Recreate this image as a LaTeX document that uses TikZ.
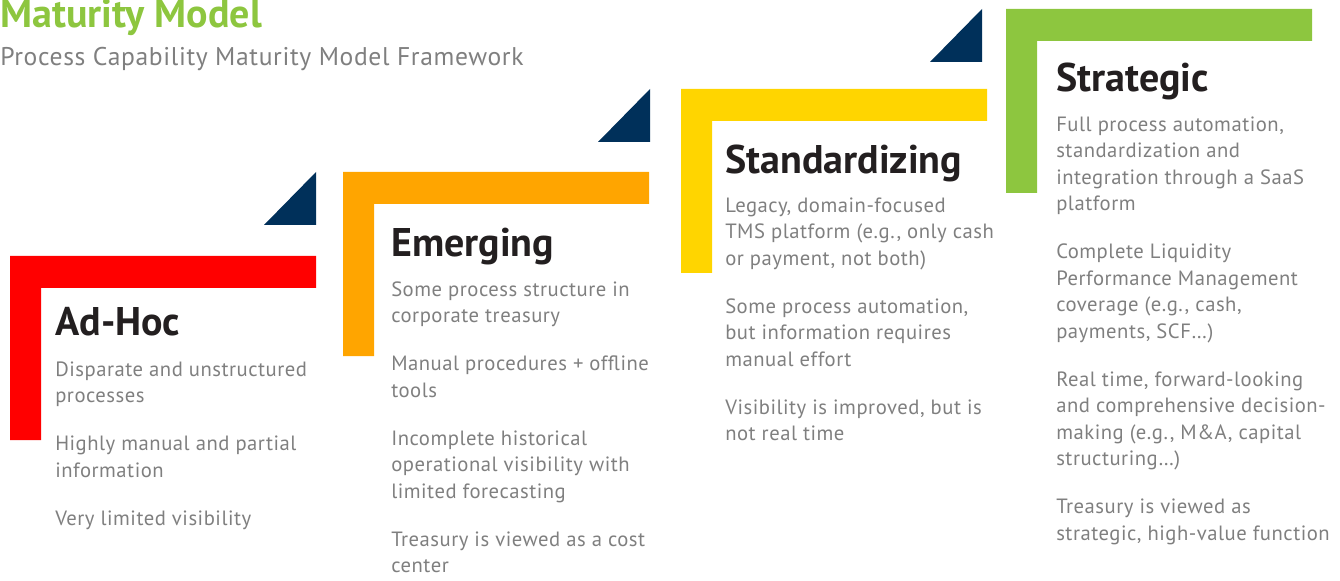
\documentclass[tikz,border=0pt]{standalone}
\usepackage{fontspec}
\setmainfont{PT Sans}
\newfontfamily\descfont[LetterSpace=2.5]{PT Sans}
\usepackage{tikz}
\usetikzlibrary{positioning}
\definecolor{adhocred}{HTML}{FF0000}
\definecolor{emergorange}{HTML}{FFA500}
\definecolor{stdyellow}{HTML}{FFD500}
\definecolor{stratgreen}{HTML}{8DC63F}
\definecolor{cornernavy}{HTML}{00305A}
\definecolor{bodygray}{HTML}{7F7F7F}
\definecolor{titleblack}{HTML}{231F20}

\begin{document}
\begin{tikzpicture}[
        x=0.75pt, y={(0,-0.75pt)},
        stage/.style={anchor=base west, inner sep=0, text=titleblack,
            font=\fontsize{30}{36}\selectfont\bfseries},
        desc/.style={anchor=north west, inner sep=0, text=bodygray, align=left,
            font=\descfont\fontsize{15.5}{19.9}\selectfont,
            execute at begin node=\strut},
        corner/.style={fill=cornernavy}
    ]
        \useasboundingbox (0,0) rectangle (1340,581);

        % 标题
        \node[anchor=base west, inner sep=0, text=stratgreen,
            font=\fontsize{30}{36}\selectfont\bfseries] (heading) at (0,28) {Maturity Model};
        \node[anchor=base west, inner sep=0, text=bodygray,
            font=\descfont\fontsize{19.2}{23}\selectfont] (subheading) at (0,66) {Process Capability Maturity Model Framework};

        % 定义阶段参数: 颜色/左边/顶边
        \def\levels{
            adhocred/10/256,
            emergorange/343/172,
            stdyellow/681/89,
            stratgreen/1006/9
        }

        % 绘制L形色条
        \foreach \col/\x/\y in \levels {
            \fill[\col] (\x,\y) -- ++(306,0) -- ++(0,32) -- ++(-275,0)
                -- ++(0,152) -- ++(-31,0) -- cycle;
        }

        % 绘制台阶三角
        \foreach \tx/\ty in {316/172, 650/89, 982/9} {
            \fill[corner] (\tx,\ty) -- ++(0,53) -- ++(-52,0) -- cycle;
        }

        % 阶段名称
        \node[stage] (adhoc) at (55,335) {Ad-Hoc};
        \node[stage] (emerging) at (391,257) {Emerging};
        \node[stage] (standardizing) at (725,173.5) {Standardizing};
        \node[stage] (strategic) at (1056,91.5) {Strategic};

        % 阶段说明(第一行基线减去支柱高度)
        \node[desc] (adhoc-text) at (55,361.4) {Disparate and unstructured\\processes\\[16pt]
            Highly manual and partial\\information\\[16pt]
            Very limited visibility};
        \node[desc] (emerging-text) at (391,281.4) {Some process structure in\\corporate treasury\\[16pt]
            Manual procedures + offline\\tools\\[16pt]
            Incomplete historical\\operational visibility with\\limited forecasting\\[16pt]
            Treasury is viewed as a cost\\center};
        \node[desc] (standardizing-text) at (725,197.4) {Legacy, domain-focused\\TMS platform (e.g., only cash\\or payment, not both)\\[16pt]
            Some process automation,\\but information requires\\manual effort\\[16pt]
            Visibility is improved, but is\\not real time};
        \node[desc] (strategic-text) at (1056,116.4) {Full process automation,\\standardization and\\integration through a SaaS\\platform\\[16pt]
            Complete Liquidity\\Performance Management\\coverage (e.g., cash,\\payments, SCF\dots)\\[16pt]
            Real time, forward-looking\\and comprehensive decision-\\making (e.g., M\&A, capital\\structuring\dots)\\[16pt]
            Treasury is viewed as\\strategic, high-value function};
    \end{tikzpicture}
\end{document}
